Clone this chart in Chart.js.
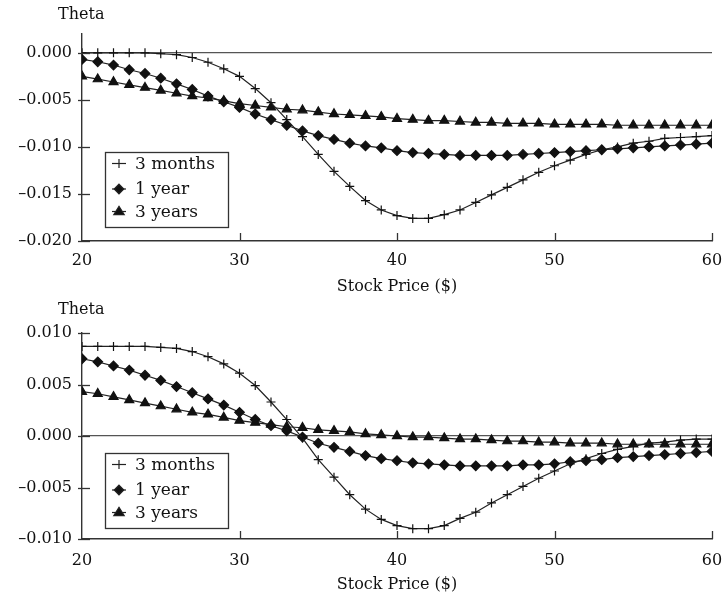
<!DOCTYPE html>
<html lang="en">
<head>
  <meta charset="UTF-8">
  <title>Theta vs Stock Price</title>
  <script src="https://cdn.jsdelivr.net/npm/chart.js"></script>
  <style>
    body {
      margin: 0;
      background: #ffffff;
    }
    .panel {
      position: relative;
      width: 726px;
    }
    canvas {
      display: block;
    }
  </style>
</head>
<body>
  <div class="panel" style="height:297px"><canvas id="top" width="726" height="297"></canvas></div>
  <div class="panel" style="height:300px"><canvas id="bottom" width="726" height="300"></canvas></div>

  <script>
    // stock prices (x axis), one point per dollar
    const prices = [20, 21, 22, 23, 24, 25, 26, 27, 28, 29, 30, 31, 32, 33, 34, 35, 36, 37, 38, 39, 40,
                    41, 42, 43, 44, 45, 46, 47, 48, 49, 50, 51, 52, 53, 54, 55, 56, 57, 58, 59, 60];
    const seriesNames = ['3 months', '1 year', '3 years'];
    const xTicks = [20, 30, 40, 50, 60];

    // upper panel
    const top3m = [0, 0, 0, 0, 0, -0.0001, -0.0002, -0.0005, -0.0010, -0.0017, -0.0025, -0.0038, -0.0053, -0.0071,
                   -0.0089, -0.0108, -0.0126, -0.0142, -0.0157, -0.0167, -0.0173, -0.0176, -0.0176, -0.0172, -0.0167,
                   -0.0159, -0.0151, -0.0143, -0.0135, -0.0127, -0.0120, -0.0114, -0.0108, -0.0103, -0.0100, -0.0096,
                   -0.0094, -0.0091, -0.0090, -0.0089, -0.0088];
    const top1y = [-0.0007, -0.00095, -0.0013, -0.0018, -0.0022, -0.0027, -0.0033, -0.0039, -0.0046, -0.0052, -0.0058,
                   -0.0065, -0.0071, -0.0077, -0.0083, -0.0088, -0.0092, -0.0096, -0.0099, -0.0101, -0.0104, -0.0106,
                   -0.0107, -0.0108, -0.0109, -0.0109, -0.0109, -0.0109, -0.0108, -0.0107, -0.0106, -0.0105, -0.0104,
                   -0.0103, -0.0102, -0.0101, -0.0100, -0.0099, -0.0098, -0.0097, -0.0096];
    const top3y = [-0.0025, -0.0028, -0.0031, -0.0034, -0.0037, -0.0040, -0.0043, -0.0046, -0.0048, -0.0051, -0.0054,
                   -0.0056, -0.0058, -0.0060, -0.0061, -0.0063, -0.0065, -0.0066, -0.0067, -0.0068, -0.0070, -0.0071,
                   -0.0072, -0.0072, -0.0073, -0.0074, -0.0074, -0.0075, -0.0075, -0.0075, -0.0076, -0.0076, -0.0076,
                   -0.0076, -0.0077, -0.0077, -0.0077, -0.0077, -0.0077, -0.0077, -0.0077];
    const topYTicks = [-0.020, -0.015, -0.010, -0.005, 0.000];

    // lower panel
    const bot3m = [0.0087, 0.0087, 0.0087, 0.0087, 0.0087, 0.0086, 0.0085, 0.0082, 0.0077, 0.0070, 0.0061, 0.0049,
                   0.0033, 0.0016, -0.0002, -0.0023, -0.0040, -0.0057, -0.0071, -0.0081, -0.0087, -0.0090, -0.0090,
                   -0.0087, -0.0080, -0.0074, -0.0065, -0.0057, -0.0049, -0.0041, -0.0034, -0.0027, -0.0022, -0.0017,
                   -0.0013, -0.0010, -0.0007, -0.0006, -0.0004, -0.0003, -0.0003];
    const bot1y = [0.0075, 0.0072, 0.0068, 0.0064, 0.0059, 0.0054, 0.0048, 0.0042, 0.0036, 0.0030, 0.0023, 0.0016,
                   0.0010, 0.0005, -0.0001, -0.0007, -0.0011, -0.0015, -0.0019, -0.0022, -0.0024, -0.0026, -0.0027,
                   -0.0028, -0.0029, -0.0029, -0.0029, -0.0029, -0.0028, -0.0028, -0.0027, -0.0025, -0.0024, -0.0023,
                   -0.0021, -0.0020, -0.0019, -0.0018, -0.0017, -0.0016, -0.0015];
    const bot3y = [0.0043, 0.0041, 0.0038, 0.0035, 0.0032, 0.0029, 0.0026, 0.0023, 0.0021, 0.0018, 0.0015, 0.0013,
                   0.0011, 0.0009, 0.0008, 0.0006, 0.0005, 0.0004, 0.0002, 0.0001, 0.0000, -0.0001, -0.0001, -0.0002,
                   -0.0003, -0.0003, -0.0004, -0.0005, -0.0005, -0.0006, -0.0006, -0.0007, -0.0007, -0.0007, -0.0008,
                   -0.0008, -0.0008, -0.0008, -0.0008, -0.0008, -0.0008];
    const botYTicks = [-0.010, -0.005, 0.000, 0.005, 0.010];

    const styles = [
      { pointStyle: 'cross', radius: 4.5 },
      { pointStyle: 'rectRot', radius: 4.8 },
      { pointStyle: 'triangle', radius: 5.2 }
    ];

    Chart.defaults.font.family = "'DejaVu Serif', serif";
    Chart.defaults.font.size = 16;
    Chart.defaults.color = '#111';

    function fmt(v) {
      return (v < 0 ? '\u2013' : '') + Math.abs(v).toFixed(3);
    }

    function drawMarker(ctx, style, r, x, y) {
      ctx.beginPath();
      if (style === 'cross') {
        ctx.moveTo(x - r, y); ctx.lineTo(x + r, y);
        ctx.moveTo(x, y - r); ctx.lineTo(x, y + r);
        ctx.stroke();
        return;
      }
      if (style === 'rectRot') {
        ctx.moveTo(x, y - r); ctx.lineTo(x + r, y); ctx.lineTo(x, y + r); ctx.lineTo(x - r, y);
      } else {
        ctx.moveTo(x, y - r); ctx.lineTo(x + r, y + r * 0.6); ctx.lineTo(x - r, y + r * 0.6);
      }
      ctx.closePath();
      ctx.fill();
      ctx.stroke();
    }

    // inward tick marks, the "Theta" label and the boxed legend
    const decorations = {
      id: 'decorations',
      afterDraw(chart, args, opts) {
        const { ctx, chartArea: a, scales: { x, y } } = chart;
        ctx.save();
        ctx.strokeStyle = '#333';
        ctx.lineWidth = 1.3;
        x.ticks.forEach(t => {
          if (t.value === x.min) return;
          const px = Math.round(x.getPixelForValue(t.value)) + 0.5;
          ctx.beginPath(); ctx.moveTo(px, a.bottom); ctx.lineTo(px, a.bottom - 8); ctx.stroke();
        });
        y.ticks.forEach(t => {
          const py = Math.round(y.getPixelForValue(t.value)) + 0.5;
          ctx.beginPath(); ctx.moveTo(a.left - 4, py); ctx.lineTo(a.left + 8, py); ctx.stroke();
        });

        ctx.fillStyle = '#111';
        ctx.font = "16px 'DejaVu Serif', serif";
        ctx.textBaseline = 'middle';
        ctx.textAlign = 'left';
        ctx.fillText('Theta', 58, opts.titleY);

        // legend box
        const left = a.left + 23, w = 123, h = 75;
        const bottom = a.bottom - opts.legendGap, topY = bottom - h;
        ctx.fillStyle = '#fff';
        ctx.fillRect(left, topY, w, h);
        ctx.lineWidth = 1.3;
        ctx.strokeRect(left + 0.5, topY + 0.5, w, h);
        const rows = [11.5, 37, 59.5];
        chart.data.datasets.forEach((ds, i) => {
          const cy = topY + rows[i];
          const cx = left + 14;
          ctx.strokeStyle = '#222';
          ctx.fillStyle = '#111';
          ctx.lineWidth = 1.2;
          ctx.beginPath(); ctx.moveTo(cx - 7, cy); ctx.lineTo(cx + 7, cy); ctx.stroke();
          drawMarker(ctx, styles[i].pointStyle, styles[i].radius, cx, cy);
          ctx.fillStyle = '#111';
          ctx.font = "17px 'DejaVu Serif', serif";
          ctx.fillText(ds.label, left + 30, cy + 1);
        });
        ctx.restore();
      }
    };

    function makeChart(id, values, yMin, yMax, yTicks, lay) {
      const datasets = values.map((vals, i) => ({
        label: seriesNames[i],
        data: prices.map((p, j) => ({ x: p, y: vals[j] })),
        borderColor: '#222',
        borderWidth: 1.2,
        pointStyle: styles[i].pointStyle,
        pointRadius: styles[i].radius,
        pointBorderWidth: 1.2,
        pointBorderColor: '#111',
        pointBackgroundColor: '#111',
        tension: 0
      }));

      return new Chart(document.getElementById(id), {
        type: 'line',
        data: { datasets },
        plugins: [decorations],
        options: {
          responsive: false,
          animation: false,
          layout: { padding: { top: lay.padTop, right: 14, left: 0, bottom: 0 } },
          scales: {
            x: {
              type: 'linear',
              min: 20,
              max: 60,
              afterBuildTicks: s => { s.ticks = xTicks.map(v => ({ value: v })); },
              afterFit: s => { s.height = lay.xHeight; s.paddingLeft = 0; s.paddingRight = 0; },
              grid: { color: 'transparent', drawTicks: false },
              border: { color: '#333', width: 1.4 },
              ticks: { padding: lay.tickPad, color: '#111', font: { size: 16 }, maxRotation: 0 },
              title: { display: true, text: 'Stock Price ($)', color: '#111', font: { size: 16 }, padding: { top: 0, bottom: lay.titlePad } }
            },
            y: {
              min: yMin,
              max: yMax,
              afterBuildTicks: s => { s.ticks = yTicks.map(v => ({ value: v })); },
              afterFit: s => { s.width = 82; s.paddingTop = 0; s.paddingBottom = 0; },
              grid: {
                drawTicks: false,
                color: c => (c.tick && c.tick.value === 0 ? '#555' : 'transparent'),
                lineWidth: 1.3
              },
              border: { color: '#333', width: 1.4 },
              ticks: { padding: 10, color: '#111', font: { size: 16 }, callback: v => fmt(v) }
            }
          },
          plugins: {
            legend: { display: false },
            tooltip: { enabled: false },
            decorations: { titleY: lay.titleY, legendGap: lay.legendGap }
          }
        }
      });
    }

    makeChart('top', [top3m, top1y, top3y], -0.020, 0.002, topYTicks,
              { padTop: 34, xHeight: 56, tickPad: 10, titlePad: 1, titleY: 15, legendGap: 14 });
    makeChart('bottom', [bot3m, bot1y, bot3y], -0.010, 0.010, botYTicks,
              { padTop: 36, xHeight: 58, tickPad: 12, titlePad: 3, titleY: 13, legendGap: 11 });
  </script>
</body>
</html>
